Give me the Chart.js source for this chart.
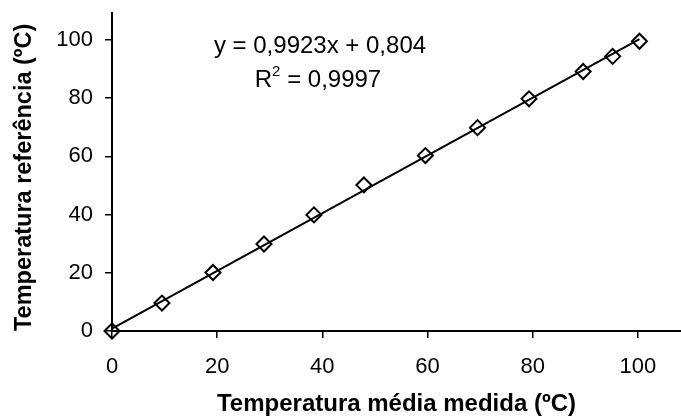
<!DOCTYPE html>
<html lang="pt">
  <head>
    <meta charset="UTF-8" />
    <title>Temperatura referência vs medida</title>
    <script src="https://cdn.jsdelivr.net/npm/chart.js@4.4.1/dist/chart.umd.min.js"></script>
    <style>
      html,
      body {
        margin: 0;
        overflow: hidden;
        background: #fff;
      }
      canvas {
        display: block;
      }
    </style>
  </head>
  <body>
    <canvas id="chart" width="681" height="420"></canvas>
    <script>
      // values
      const measured = [0, 9.5, 19.2, 28.9, 38.4, 47.9, 59.6, 69.5, 79.3, 89.6, 95.2, 100.3];
      const reference = [0, 9.6, 20.1, 29.9, 39.9, 50.2, 60.3, 69.9, 79.8, 89.2, 94.4, 99.6];
      // end points of the fitted line as drawn
      const fitX = [0, 100.3];
      const fitY = [0.8, 100.3];
      const xTicks = [0, 20, 40, 60, 80, 100];
      const yTicks = [0, 20, 40, 60, 80, 100];
      const equation = "y = 0,9923x + 0,804";
      const rSquared = "0,9997";

      const fontFamily = "'Liberation Sans', Arial, sans-serif";

      // equation text in the upper left of the plot
      const equationLabel = {
        id: "equationLabel",
        afterDraw(chart) {
          const ctx = chart.ctx;
          ctx.save();
          ctx.fillStyle = "#000";
          ctx.textBaseline = "middle";
          ctx.font = "24px " + fontFamily;
          ctx.textAlign = "center";
          ctx.fillText(equation, 320, 46);

          const rest = " = " + rSquared;
          const wR = ctx.measureText("R").width;
          const wRest = ctx.measureText(rest).width;
          ctx.font = "15px " + fontFamily;
          const w2 = ctx.measureText("2").width;
          let x = 318 - (wR + w2 + wRest) / 2;
          ctx.textAlign = "left";
          ctx.font = "24px " + fontFamily;
          ctx.fillText("R", x, 80);
          x += wR;
          ctx.font = "15px " + fontFamily;
          ctx.fillText("2", x, 72);
          x += w2;
          ctx.font = "24px " + fontFamily;
          ctx.fillText(rest, x, 80);
          ctx.restore();
        },
      };

      new Chart(document.getElementById("chart"), {
        type: "scatter",
        data: {
          datasets: [
            {
              label: "Linear",
              data: fitX.map((x, i) => ({ x: x, y: fitY[i] })),
              showLine: true,
              borderColor: "#000",
              borderWidth: 2,
              pointRadius: 0,
              clip: false,
            },
            {
              label: "Pontos",
              data: measured.map((x, i) => ({ x: x, y: reference[i] })),
              pointStyle: "rectRot",
              pointRadius: 7.5,
              pointBorderWidth: 2,
              pointBorderColor: "#000",
              pointBackgroundColor: "rgba(0,0,0,0)",
              clip: false,
            },
          ],
        },
        options: {
          responsive: false,
          animation: false,
          layout: {
            autoPadding: false,
            padding: { top: 13, right: 0, left: 0, bottom: 0 },
          },
          plugins: {
            legend: { display: false },
            tooltip: { enabled: false },
          },
          scales: {
            x: {
              type: "linear",
              min: 0,
              max: 108.2,
              afterBuildTicks: (s) => {
                s.ticks = xTicks.map((v) => ({ value: v }));
              },
              afterFit: (s) => {
                s.height = 89;
                s.paddingLeft = 0;
                s.paddingRight = 0;
              },
              grid: {
                display: true,
                drawOnChartArea: false,
                drawTicks: true,
                tickLength: 7,
                color: "#000",
                lineWidth: 1.5,
              },
              border: { display: true, color: "#000", width: 2 },
              ticks: {
                color: "#000",
                padding: 16,
                font: { family: fontFamily, size: 22 },
              },
              title: {
                display: true,
                text: "Temperatura média medida (ºC)",
                color: "#000",
                padding: { top: 0, bottom: 1 },
                font: { family: fontFamily, size: 24, weight: "bold" },
              },
            },
            y: {
              type: "linear",
              min: 0,
              max: 109.3,
              afterBuildTicks: (s) => {
                s.ticks = yTicks.map((v) => ({ value: v }));
              },
              afterFit: (s) => {
                s.width = 112;
                s.paddingTop = 0;
                s.paddingBottom = 0;
              },
              grid: {
                display: true,
                drawOnChartArea: false,
                drawTicks: true,
                tickLength: 7,
                color: "#000",
                lineWidth: 1.5,
              },
              border: { display: true, color: "#000", width: 2 },
              ticks: {
                color: "#000",
                padding: 12,
                font: { family: fontFamily, size: 22 },
              },
              title: {
                display: true,
                align: "start",
                text: "Temperatura referência (ºC)",
                color: "#000",
                padding: { top: 10, bottom: 0 },
                font: { family: fontFamily, size: 23.5, weight: "bold" },
              },
            },
          },
        },
        plugins: [equationLabel],
      });
    </script>
  </body>
</html>
